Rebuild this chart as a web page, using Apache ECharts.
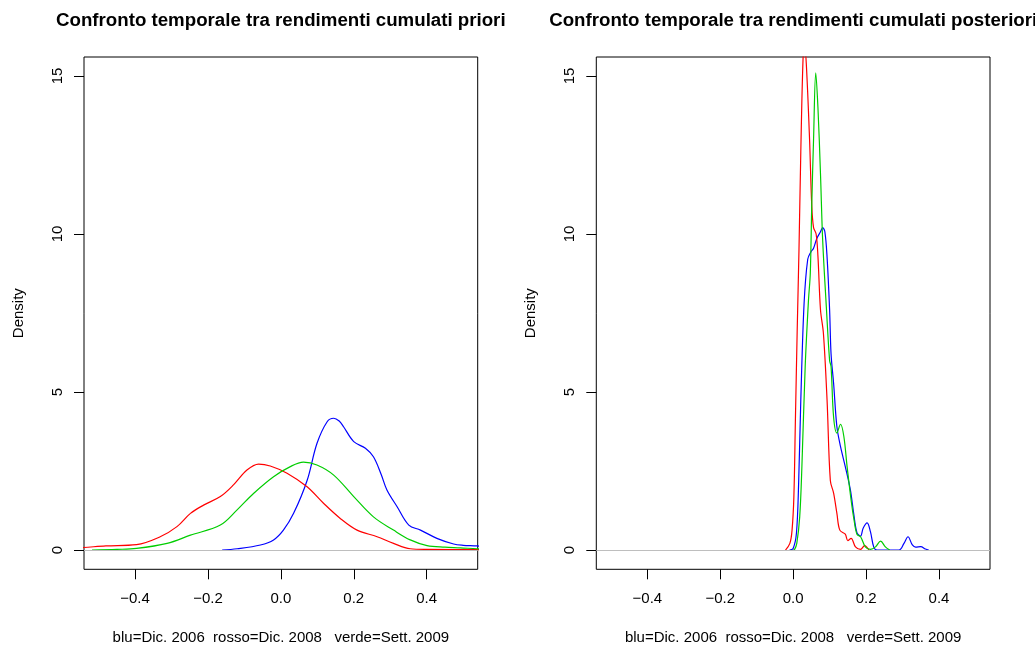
<!DOCTYPE html>
<html>
<head>
<meta charset="utf-8">
<script src="https://cdn.jsdelivr.net/npm/echarts@6/dist/echarts.min.js"></script>
<style>
html,body{margin:0;padding:0;background:#fff;}
#chart{width:1035px;height:646px;}
</style>
</head>
<body>
<div id="chart"></div>
<script>
// ---- Data ----
var titles = ['Confronto temporale tra rendimenti cumulati priori',
              'Confronto temporale tra rendimenti cumulati posteriori'];
var xLabel = 'blu=Dic. 2006  rosso=Dic. 2008   verde=Sett. 2009';
var yLabel = 'Density';
var xTicks = [-0.4, -0.2, 0, 0.2, 0.4];
var yTicks = [0, 5, 10, 15];

// Prior densities [x, density]
var priorBlue = [[-0.161,0],[-0.12,0.04],[-0.056,0.16],[-0.02,0.32],[0.007,0.63],[0.035,1.16],[0.072,2.2],[0.099,3.37],[0.127,4.06],[0.145,4.17],[0.16,4.08],[0.172,3.9],[0.2,3.43],[0.232,3.22],[0.254,2.95],[0.275,2.4],[0.291,1.9],[0.319,1.37],[0.351,0.79],[0.383,0.63],[0.428,0.37],[0.474,0.19],[0.5,0.15],[0.538,0.13],[0.58,0.08],[0.62,0.02]];
var priorRed = [[-0.62,0.03],[-0.541,0.08],[-0.48,0.13],[-0.396,0.17],[-0.331,0.42],[-0.285,0.74],[-0.248,1.16],[-0.212,1.42],[-0.166,1.69],[-0.13,2.06],[-0.093,2.53],[-0.061,2.72],[-0.029,2.66],[0.017,2.43],[0.072,2.0],[0.117,1.48],[0.163,1.0],[0.209,0.63],[0.264,0.42],[0.309,0.21],[0.355,0.04],[0.4,0.02],[0.6,0.01]];
var priorGreen = [[-0.518,0.0],[-0.45,0.02],[-0.396,0.05],[-0.312,0.21],[-0.248,0.47],[-0.166,0.79],[-0.12,1.27],[-0.075,1.79],[-0.02,2.32],[0.026,2.64],[0.062,2.78],[0.099,2.69],[0.145,2.37],[0.2,1.69],[0.254,1.05],[0.309,0.63],[0.355,0.32],[0.401,0.14],[0.45,0.09],[0.492,0.07],[0.538,0.04],[0.6,0.02]];

// Posterior densities [x, density]
var postBlue = [[-0.01,0],[0.0,0.05],[0.009,0.53],[0.015,2.1],[0.021,4.75],[0.03,7.8],[0.04,9.2],[0.049,9.44],[0.056,9.55],[0.065,9.86],[0.075,10.07],[0.081,10.2],[0.087,10.07],[0.093,9.28],[0.1,7.6],[0.104,6.2],[0.111,5.27],[0.12,3.9],[0.13,3.27],[0.143,2.64],[0.157,1.9],[0.166,1.16],[0.175,0.55],[0.185,0.44],[0.192,0.69],[0.203,0.86],[0.212,0.58],[0.221,0.1],[0.23,0],[0.29,0],[0.304,0.21],[0.315,0.42],[0.327,0.16],[0.336,0.09],[0.35,0.11],[0.363,0.03],[0.372,0]];
var postRed = [[-0.021,0],[-0.009,0.21],[-0.003,0.63],[0.002,1.69],[0.006,4.0],[0.011,6.9],[0.016,9.5],[0.021,12.6],[0.027,15.5],[0.031,16.0],[0.036,15.4],[0.045,13.0],[0.051,10.9],[0.056,10.2],[0.063,10.0],[0.068,9.3],[0.075,7.6],[0.083,6.86],[0.093,4.75],[0.102,2.2],[0.111,1.8],[0.12,1.16],[0.128,0.63],[0.143,0.5],[0.15,0.3],[0.159,0.37],[0.171,0.1],[0.185,0.02],[0.196,0.14],[0.208,0.0]];
var postGreen = [[0.0,0],[0.004,0.02],[0.01,0.21],[0.018,1.05],[0.024,2.64],[0.033,5.8],[0.042,7.9],[0.047,8.75],[0.051,10.9],[0.056,13.0],[0.062,15.1],[0.068,14.0],[0.075,11.9],[0.081,9.8],[0.091,7.7],[0.1,6.0],[0.104,5.8],[0.111,4.2],[0.12,3.7],[0.13,3.98],[0.139,3.6],[0.148,2.64],[0.159,1.58],[0.167,0.95],[0.175,0.5],[0.185,0.42],[0.198,0.1],[0.212,0.02],[0.226,0.1],[0.24,0.28],[0.253,0.1],[0.265,0.0]];

// ---- Chart ----
var FONT = "'Liberation Sans', Arial, Helvetica, sans-serif";
var COL = {blue:'#0000FF', red:'#FF0000', green:'#00CD00'};
var chart = echarts.init(document.getElementById('chart'), null, {renderer:'canvas'});

function fmt(v){ var s = Math.abs(v).toFixed(1); return v < -1e-9 ? '\u2212' + s : s; }

function xAx(i){
  return {
    type:'value', gridIndex:i, min:-0.54, max:0.54, position:'bottom',
    name:xLabel, nameLocation:'middle', nameGap:61,
    nameTextStyle:{fontFamily:FONT, fontSize:15, color:'#000'},
    axisLine:{show:false, onZero:false},
    axisTick:{show:true, inside:false, length:10, customValues:xTicks, lineStyle:{color:'#000', width:1}},
    axisLabel:{show:true, margin:22, customValues:xTicks, formatter:fmt, fontFamily:FONT, fontSize:15, color:'#000'},
    splitLine:{show:false}
  };
}
function yAx(i){
  return {
    type:'value', gridIndex:i, min:-0.61, max:15.6, position:'left',
    name:yLabel, nameLocation:'middle', nameGap:58, nameRotate:90,
    nameTextStyle:{fontFamily:FONT, fontSize:15, color:'#000'},
    axisLine:{show:false, onZero:false},
    axisTick:{show:true, inside:false, length:10, customValues:yTicks, lineStyle:{color:'#000', width:1}},
    axisLabel:{show:true, rotate:90, margin:19, customValues:yTicks, fontFamily:FONT, fontSize:15, color:'#000'},
    splitLine:{show:false}
  };
}
function ser(i, data, color, withZero){
  var s = {
    type:'line', xAxisIndex:i, yAxisIndex:i, data:data, showSymbol:false,
    smooth:0.35, clip:true, animation:false,
    lineStyle:{color:color, width:1.2}, itemStyle:{color:color}, z:3
  };
  if (withZero) {
    s.markLine = {silent:true, symbol:['none','none'], label:{show:false},
      lineStyle:{color:'#BEBEBE', type:'solid', width:1}, animation:false,
      data:[{yAxis:0}]};
  }
  return s;
}

var option = {
  backgroundColor:'#ffffff',
  animation:false,
  title:[
    {text:titles[0], left:280.8, top:11, padding:0, textAlign:'center',
     textStyle:{fontFamily:FONT, fontSize:18.7, fontWeight:'bold', color:'#000'}},
    {text:titles[1], left:793.2, top:11, padding:0, textAlign:'center',
     textStyle:{fontFamily:FONT, fontSize:18.7, fontWeight:'bold', color:'#000'}}
  ],
  grid:[
    {left:84, top:57, width:393.7, height:512.3, show:true, borderColor:'#000', borderWidth:1, backgroundColor:'transparent', outerBoundsMode:'none', containLabel:false},
    {left:596.3, top:57, width:393.7, height:512.3, show:true, borderColor:'#000', borderWidth:1, backgroundColor:'transparent', outerBoundsMode:'none', containLabel:false}
  ],
  xAxis:[xAx(0), xAx(1)],
  yAxis:[yAx(0), yAx(1)],
  series:[
    ser(0, priorBlue, COL.blue, true),
    ser(0, priorRed, COL.red, false),
    ser(0, priorGreen, COL.green, false),
    ser(1, postBlue, COL.blue, true),
    ser(1, postRed, COL.red, false),
    ser(1, postGreen, COL.green, false)
  ]
};
chart.setOption(option);
</script>
</body>
</html>
